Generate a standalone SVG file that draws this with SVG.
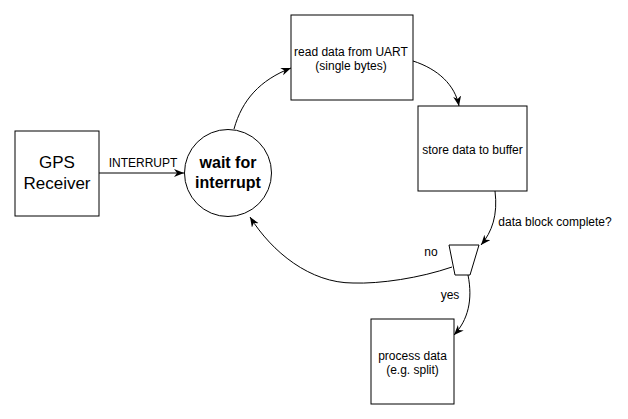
<svg xmlns="http://www.w3.org/2000/svg" width="628" height="419" viewBox="0 0 628 419">
<style>
.n{fill:#fff;stroke:#000;stroke-width:1}
.t{font-family:"Liberation Sans",Arial,sans-serif;font-size:12px;fill:#000;text-anchor:middle}
.big{font-family:"Liberation Sans",Arial,sans-serif;font-size:17px;fill:#000;text-anchor:middle}
.bold{font-family:"Liberation Sans",Arial,sans-serif;font-size:16px;font-weight:bold;fill:#000;text-anchor:middle}
.c{fill:none;stroke:#000;stroke-width:1;marker-end:url(#a)}
</style>
<defs>
<marker id="a" markerUnits="userSpaceOnUse" markerWidth="12" markerHeight="10" refX="10" refY="4" orient="auto" viewBox="0 0 12 10">
<path d="M0,0 L10,4 L0,8 L3,4 z" fill="#000"/>
</marker>
</defs>
<rect width="628" height="419" fill="#fff"/>
<g id="connectors">
<path class="c" d="M99,173 L184,173"/>
<text class="t" x="143" y="167">INTERRUPT</text>
<path class="c" d="M234,129 C242,100 260,80 291,68"/>
<path class="c" d="M413,61 C438,69 455,85 459,106"/>
<path class="c" d="M495,191 C498,215 492,232 481,245"/>
<text class="t" x="555" y="226">data block complete?</text>
<path class="c" d="M452,267 C420,278 380,284 353,283 C310,283 272,252 250,217"/>
<text class="t" x="431" y="256">no</text>
<path class="c" d="M468,275 C473,300 468,320 454,335"/>
<text class="t" x="450" y="299">yes</text>
</g>
<g id="gps">
<rect class="n" x="15" y="131" width="84" height="85"/>
<text class="big" x="57" y="168">GPS</text>
<text class="big" x="57" y="189">Receiver</text>
</g>
<g id="wait">
<circle class="n" cx="228" cy="173" r="43.5"/>
<text class="bold" x="228" y="168">wait for</text>
<text class="bold" x="228" y="188">interrupt</text>
</g>
<g id="read">
<rect class="n" x="291" y="15" width="122" height="85"/>
<text class="t" x="351" y="56">read data from UART</text>
<text class="t" x="351" y="70">(single bytes)</text>
</g>
<g id="store">
<rect class="n" x="418" y="106" width="109" height="85"/>
<text class="t" x="472.5" y="154">store data to buffer</text>
</g>
<g id="decision">
<polygon class="n" points="449,245 479,245 470,275 455,275"/>
</g>
<g id="process">
<rect class="n" x="371" y="319" width="83" height="85"/>
<text class="t" x="412.5" y="360">process data</text>
<text class="t" x="412.5" y="374">(e.g. split)</text>
</g>
</svg>
